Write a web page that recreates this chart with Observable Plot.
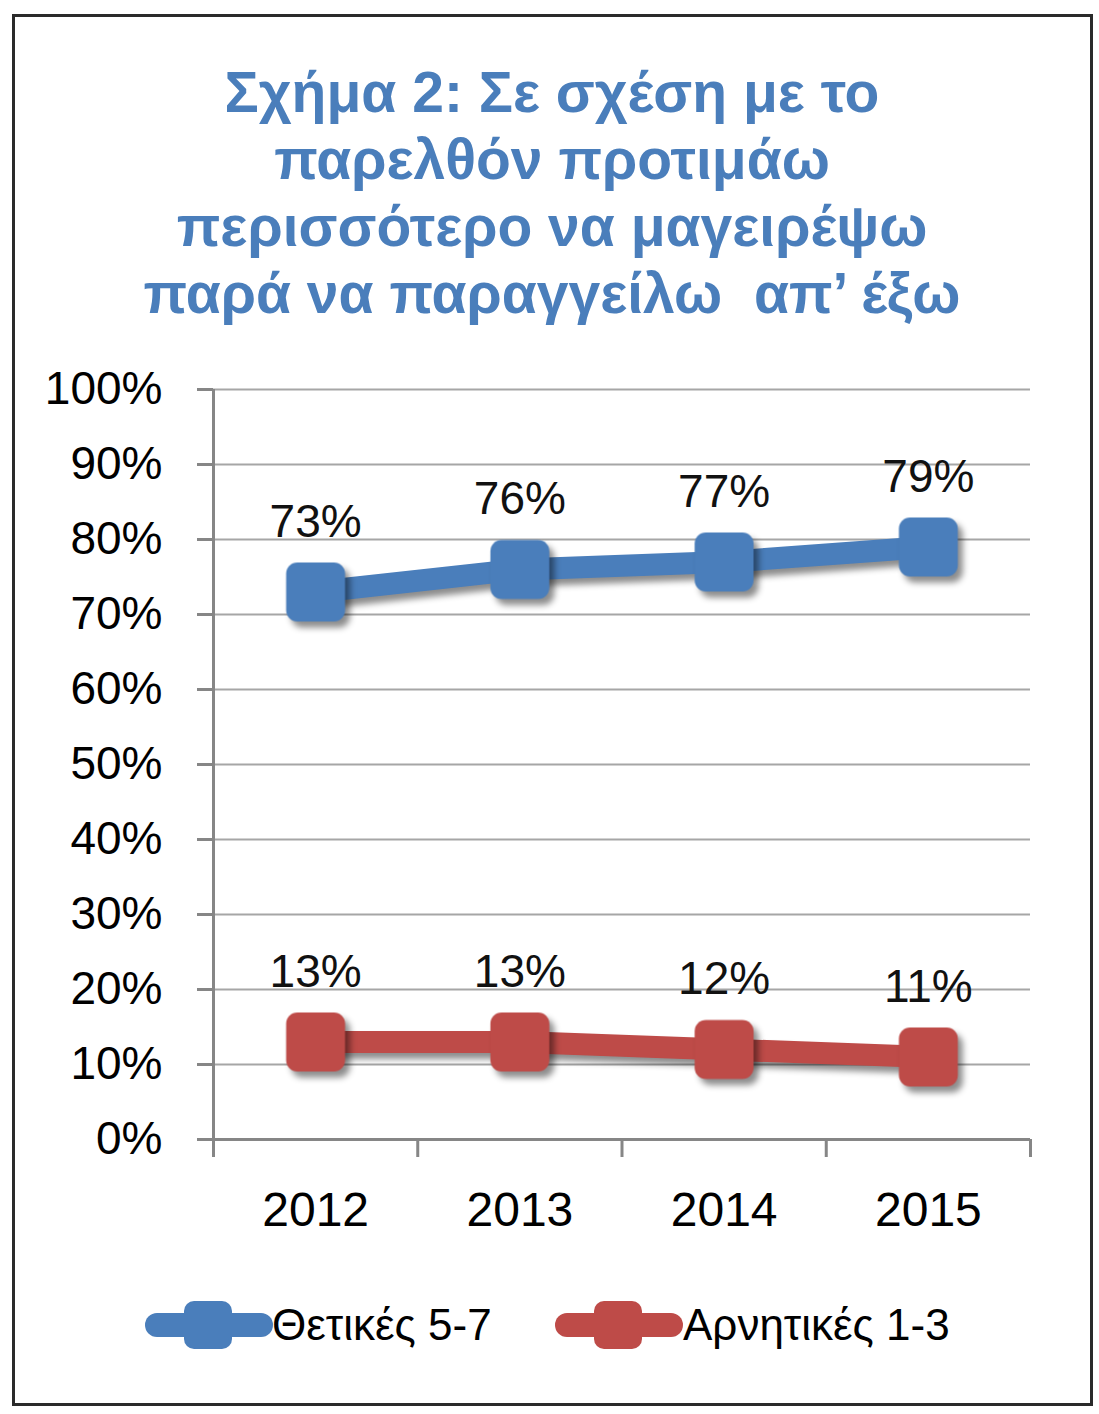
<!DOCTYPE html>
<html><head><meta charset="utf-8">
<script src="https://cdn.jsdelivr.net/npm/d3@7"></script>
<script src="https://cdn.jsdelivr.net/npm/@observablehq/plot@0.6"></script>
<style>
body{margin:0;background:#fff;font-family:"Liberation Sans",Arial,sans-serif;width:1099px;height:1414px;position:relative;overflow:hidden;}
#frame{position:absolute;left:12px;top:14px;width:1075px;height:1386px;border:3px solid #2a2a2a;box-sizing:content-box;}
#title{position:absolute;left:0;top:59px;width:1104px;text-align:center;color:#4a7ebb;font-weight:bold;font-size:57px;line-height:67px;}
#chart{position:absolute;left:0;top:330px;}
.legsym{position:absolute;top:1295px;}
.legtxt{position:absolute;top:1301px;font-size:44px;color:#000;line-height:48px;white-space:nowrap;}
</style></head>
<body>
<div id="frame"></div>
<div id="title"></div>
<div id="chart"></div>
<div id="legend"></div>
<script>
const titleLines = ["Σχήμα 2: Σε σχέση με το", "παρελθόν προτιμάω", "περισσότερο να μαγειρέψω", "παρά να παραγγείλω  απ’ έξω"];
const years = [2012, 2013, 2014, 2015];
const positive = [73, 76, 77, 79];   // Θετικές 5-7
const negative = [13, 13, 12, 11];   // Αρνητικές 1-3
const seriesNames = ["Θετικές 5-7", "Αρνητικές 1-3"];
const seriesColors = ["#4a7ebb", "#be4b48"];
const yTicks = [0, 10, 20, 30, 40, 50, 60, 70, 80, 90, 100];

document.getElementById("title").innerHTML = titleLines.map(t => `<div style="white-space:pre">${t}</div>`).join("");

const seriesValues = [positive, negative];
const data = [];
seriesNames.forEach((name, i) => seriesValues[i].forEach((v, j) => data.push({series: name, year: years[j], value: v})));
const boundaries = years.map(y => y - 0.5).concat([years[years.length - 1] + 0.5]);

const roundedSquare = {
  draw(ctx, size) {
    const h = Math.sqrt(size / Math.PI) * 0.95, r = h * 0.38;
    ctx.moveTo(-h + r, -h);
    ctx.lineTo(h - r, -h); ctx.arcTo(h, -h, h, -h + r, r);
    ctx.lineTo(h, h - r); ctx.arcTo(h, h, h - r, h, r);
    ctx.lineTo(-h + r, h); ctx.arcTo(-h, h, -h, h - r, r);
    ctx.lineTo(-h, -h + r); ctx.arcTo(-h, -h, -h + r, -h, r);
    ctx.closePath();
  }
};

const chart = Plot.plot({
  width: 1099, height: 900,
  marginLeft: 213, marginRight: 69, marginTop: 59, marginBottom: 91,
  x: {type: "linear", domain: [boundaries[0], boundaries[boundaries.length - 1]]},
  y: {domain: [0, 100]},
  color: {domain: seriesNames, range: seriesColors},
  style: {fontFamily: '"Liberation Sans", Arial, sans-serif', color: "#000", background: "transparent", overflow: "visible"},
  marks: [
    Plot.gridY(yTicks, {stroke: "#a6a6a6", strokeOpacity: 1, strokeWidth: 2}),
    Plot.ruleY([0], {stroke: "#868686", strokeWidth: 3}),
    Plot.ruleX([boundaries[0]], {stroke: "#868686", strokeWidth: 3}),
    Plot.axisY(yTicks, {tickSize: 16, tickPadding: 35, tickFormat: d => d + "%", stroke: "#868686", strokeWidth: 3, fill: "#000", fontSize: 46, label: null}),
    Plot.axisX(boundaries, {tickSize: 18, tickFormat: () => "", stroke: "#868686", strokeWidth: 3, label: null}),
    Plot.axisX(years, {tickSize: 0, tickPadding: 52, tickFormat: d => String(d), fill: "#000", fontSize: 48, label: null}),
    Plot.line(data, {x: "year", y: "value", z: "series", stroke: "series", strokeWidth: 22, strokeLinejoin: "round"}),
    Plot.dot(data, {x: "year", y: "value", fill: "series", symbol: roundedSquare, r: 31}),
    Plot.text(data, {x: "year", y: "value", text: d => d.value + "%", dy: -70, fontSize: 46, fill: "#111"})
  ]
});
chart.querySelectorAll('g[aria-label="line"], g[aria-label="dot"]').forEach(g => g.style.filter = "drop-shadow(5px 6px 3px rgba(0,0,0,0.45))");
document.getElementById("chart").appendChild(chart);

// legend
const legSymLeft = [143, 553];
const legTxtLeft = [272, 683];
const legend = document.getElementById("legend");
seriesNames.forEach((name, i) => {
  const c = seriesColors[i];
  legend.insertAdjacentHTML("beforeend",
    `<svg class="legsym" style="left:${legSymLeft[i]}px" width="132" height="60">
      <line x1="14" y1="30" x2="118" y2="30" stroke="${c}" stroke-width="24" stroke-linecap="round"/>
      <rect x="41" y="6" width="48" height="48" rx="10" fill="${c}"/>
    </svg><div class="legtxt" style="left:${legTxtLeft[i]}px">${name}</div>`);
});
</script>
</body></html>
